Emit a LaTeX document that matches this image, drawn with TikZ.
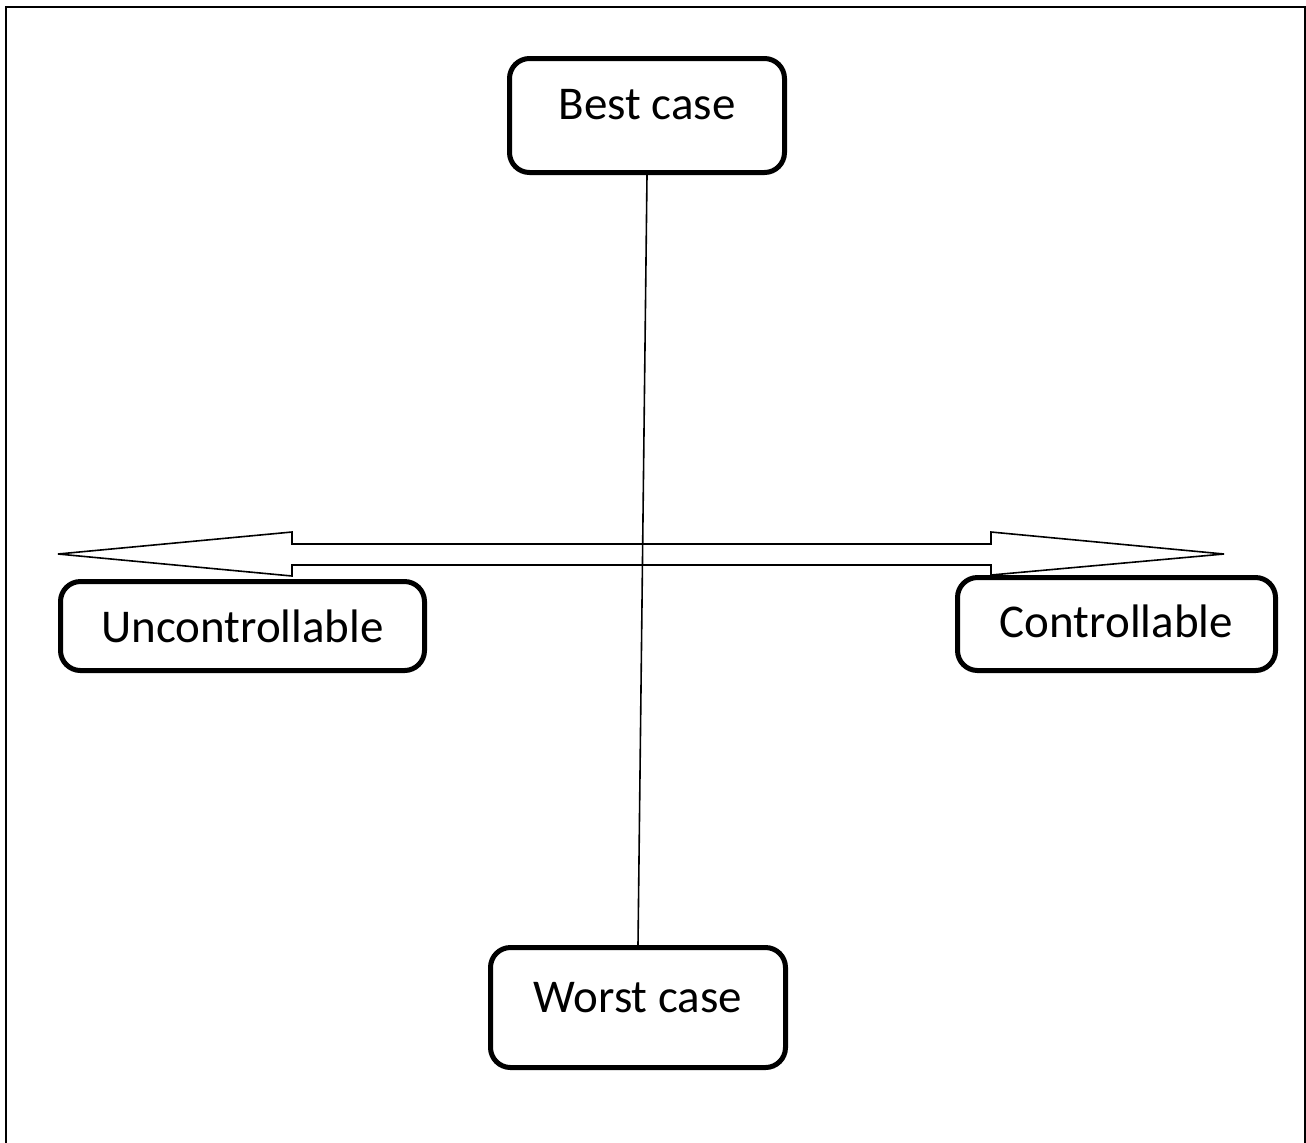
\documentclass[tikz,border=0pt]{standalone}
\usepackage{fontspec}
\setmainfont{Carlito}
\begin{document}
\begin{tikzpicture}[x=0.5pt,y=-0.5pt,
  casebox/.style={draw, line width=2.5pt, rounded corners=10pt, inner sep=0pt,
    font=\fontsize{23.5pt}{28pt}\selectfont},
  thinline/.style={line width=0.8pt}]
\useasboundingbox (0,0) rectangle (1306,1142);
% frame (open at the bottom)
\draw[line width=1pt] (6,1150) -- (6,7) -- (1305,7) -- (1305,1150);

% the four scenario boxes
\node[casebox, minimum width=137.5pt, minimum height=57pt,
      text height=15pt, text depth=11.5pt] (best) at (647,115.5) {Best case};
\node[casebox, minimum width=147.5pt, minimum height=60pt,
      text height=15pt, text depth=10.5pt] (worst) at (638,1007.5) {Worst case};
\node[casebox, minimum width=182pt, minimum height=44.5pt,
      text height=16pt, text depth=0pt] (unctrl) at (242.5,626) {Uncontrollable};
\node[casebox, minimum width=159pt, minimum height=46.5pt,
      text height=15pt, text depth=2pt] (ctrl) at (1116.5,624) {Controllable};

% double-headed block arrow
\draw[thinline, line join=miter]
  (58,554) -- (292,532) -- (292,544) -- (991,544) -- (991,532) -- (1224,554)
  -- (991,575) -- (991,565) -- (292,565) -- (292,576) -- cycle;

% axis between best and worst case
\draw[thinline] (best.south) -- (worst.north);
\end{tikzpicture}
\end{document}
